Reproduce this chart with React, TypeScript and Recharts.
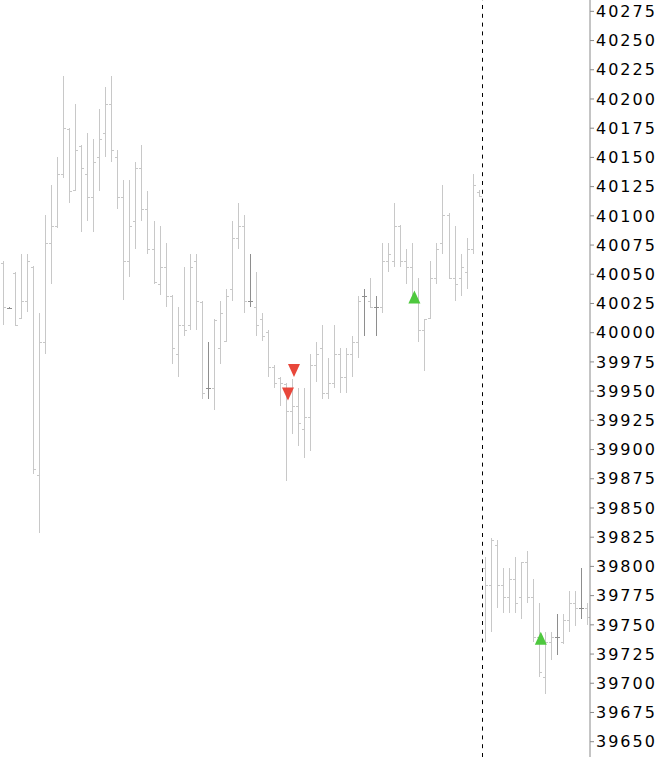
import { ComposedChart, Bar, Scatter, XAxis, YAxis, ReferenceLine } from 'recharts';

// OHLC per bar (bars 0-79 first session, 80-97 second)
const opens = [
  40060, 40021, 40051, 40013, 40027, 40056, 39878, 39992, 40077, 40091,
  40136, 40174, 40122, 40160, 40136, 40116, 40150, 40171, 40196, 40150,
  40116, 40061, 40096, 40141, 40106, 40072, 40042, 40056, 40031, 39982,
  40007, 40007, 40061, 40026, 39953, 39953, 39987, 39993, 40037, 40081,
  40091, 40027, 40022, 40012, 40001, 39971, 39961, 39956, 39933, 39937,
  39918, 39928, 39972, 39987, 39948, 39957, 39982, 39962, 39982, 39992,
  40031, 40027, 40022, 40022, 40061, 40061, 40091, 40061, 40056, 40028,
  40002, 40013, 40047, 40077, 40101, 40047, 40047, 40052, 40072, 40120,
  39799, 39784, 39818, 39784, 39774, 39789, 39774, 39804, 39774, 39740,
  39705, 39735, 39740, 39735, 39754, 39769, 39764, 39764,
];
const highs = [
  40061, 40022, 40052, 40067, 40067, 40057, 40017, 40101, 40126, 40150,
  40220, 40175, 40196, 40161, 40171, 40166, 40191, 40210, 40220, 40156,
  40131, 40131, 40146, 40161, 40121, 40096, 40091, 40077, 40032, 40022,
  40056, 40067, 40067, 40027, 39992, 40012, 40027, 40037, 40096, 40111,
  40101, 40067, 40052, 40017, 40002, 39972, 39962, 39957, 39960, 39953,
  39953, 39982, 39992, 40007, 39978, 40007, 39987, 39987, 39997, 40031,
  40037, 40047, 40031, 40077, 40077, 40111, 40092, 40072, 40077, 40047,
  40012, 40061, 40077, 40126, 40102, 40091, 40067, 40081, 40136, 40122,
  39808, 39824, 39823, 39799, 39799, 39808, 39804, 39813, 39789, 39769,
  39744, 39744, 39759, 39759, 39779, 39779, 39799, 39769,
];
const lows = [
  40007, 40020, 40006, 40012, 40018, 39879, 39829, 39982, 40042, 40090,
  40132, 40111, 40121, 40086, 40096, 40086, 40121, 40150, 40146, 40106,
  40028, 40048, 40072, 40096, 40067, 40042, 40032, 40022, 39973, 39962,
  39997, 40002, 40002, 39943, 39943, 39934, 39973, 39992, 40027, 40072,
  40017, 40022, 39997, 39993, 39962, 39953, 39937, 39873, 39913, 39903,
  39893, 39899, 39958, 39943, 39943, 39953, 39948, 39948, 39962, 39978,
  39997, 40021, 39997, 40017, 40052, 40056, 40056, 40042, 40028, 39992,
  39967, 40012, 40042, 40067, 40046, 40027, 40031, 40037, 40067, 40116,
  39735, 39744, 39764, 39760, 39760, 39760, 39755, 39769, 39735, 39705,
  39691, 39720, 39724, 39734, 39744, 39749, 39755, 39750,
];
const closes = [
  40022, 40021, 40007, 40027, 40061, 39883, 39992, 40077, 40091, 40136,
  40175, 40121, 40156, 40141, 40116, 40146, 40166, 40196, 40156, 40116,
  40061, 40091, 40141, 40106, 40072, 40043, 40056, 40031, 39987, 40007,
  40002, 40056, 40027, 39948, 39953, 40011, 40017, 40031, 40081, 40091,
  40027, 40027, 40007, 39997, 39971, 39957, 39957, 39933, 39937, 39923,
  39928, 39972, 39982, 39948, 39957, 39982, 39962, 39982, 39992, 40027,
  40031, 40022, 40022, 40061, 40067, 40091, 40061, 40056, 40031, 40002,
  40012, 40047, 40072, 40101, 40047, 40042, 40056, 40072, 40126, 40117,
  39784, 39823, 39784, 39774, 39789, 39769, 39804, 39774, 39740, 39710,
  39735, 39740, 39740, 39754, 39769, 39764, 39764, 39757,
];

// signal arrows: bar index, tip price, direction
const signals = [
  { bar: 47, price: 39942, dir: 'down' },
  { bar: 48, price: 39962, dir: 'down' },
  { bar: 68, price: 40036, dir: 'up' },
  { bar: 89, price: 39744, dir: 'up' },
];

const sessionStart = 80;
const priceTicks = [
  39650, 39675, 39700, 39725, 39750, 39775, 39800, 39825, 39850, 39875, 39900, 39925, 39950,
  39975, 40000, 40025, 40050, 40075, 40100, 40125, 40150, 40175, 40200, 40225, 40250, 40275,
];

const data = opens.map((o, i) => {
  const sig = signals.find((s) => s.bar === i);
  return {
    i,
    o,
    h: highs[i],
    l: lows[i],
    c: closes[i],
    sig: sig ? sig.price : null,
    dir: sig ? sig.dir : null,
  };
});

const OhlcBar = (props: any) => {
  const { x, y, width, height, payload } = props;
  if (x == null || y == null) return null;
  const { o, h, l, c } = payload;
  const span = h - l;
  const toY = (v: number) => (span === 0 ? y : y + ((h - v) / span) * height);
  const cx = Math.floor(x + width / 2);
  const color = o === c ? '#8e8e8e' : '#c8c8c8';
  const top = Math.round(y);
  const bottom = Math.max(Math.round(y + height), top + 1);
  return (
    <g shapeRendering="crispEdges" fill={color}>
      <rect x={cx} y={top} width={1} height={bottom - top} />
      <rect x={cx - 2} y={Math.round(toY(o))} width={2} height={1} />
      <rect x={cx + 1} y={Math.round(toY(c))} width={2} height={1} />
    </g>
  );
};

const Arrow = (props: any) => {
  const { cx, cy, payload } = props;
  if (!payload || payload.sig == null || cx == null || cy == null || isNaN(cy)) return <g />;
  const tx = cx + 2;
  if (payload.dir === 'down') {
    return <polygon points={`${tx - 6},${cy - 13} ${tx + 6},${cy - 13} ${tx},${cy}`} fill="#e8473b" />;
  }
  return <polygon points={`${tx - 6},${cy + 13} ${tx + 6},${cy + 13} ${tx},${cy}`} fill="#4ec83e" />;
};

const DashedLine = (props: any) => {
  const { x1, y1, y2 } = props;
  if (x1 == null) return null;
  const x = Math.round(x1) + 0.5;
  return <line x1={x} x2={x} y1={y1} y2={y2} stroke="#000" strokeWidth={1} strokeDasharray="4 4.8" />;
};

export default function App() {
  return (
    <div>
      <style>{`body { margin: 0; }`}</style>
      <ComposedChart width={662} height={757} data={data} margin={{ top: 0, right: 0, bottom: 0, left: 0 }}>
        <XAxis dataKey="i" type="category" hide />
        <YAxis
          orientation="right"
          type="number"
          width={72}
          domain={[39636.9, 40284.7]}
          allowDataOverflow
          ticks={priceTicks}
          interval={0}
          tickSize={4}
          tickMargin={2}
          axisLine={{ stroke: '#8a8a8a' }}
          tickLine={{ stroke: '#8a8a8a' }}
          tick={{ fill: '#000', fontSize: 16, fontFamily: 'DejaVu Sans', letterSpacing: 2 }}
        />
        <ReferenceLine x={sessionStart} position="start" stroke="#000" strokeDasharray="4 4.8" shape={DashedLine} />
        <Bar dataKey={(d: any) => [d.l, d.h]} barSize={5} shape={OhlcBar} isAnimationActive={false} />
        <Scatter dataKey="sig" shape={Arrow} isAnimationActive={false} />
      </ComposedChart>
    </div>
  );
}
